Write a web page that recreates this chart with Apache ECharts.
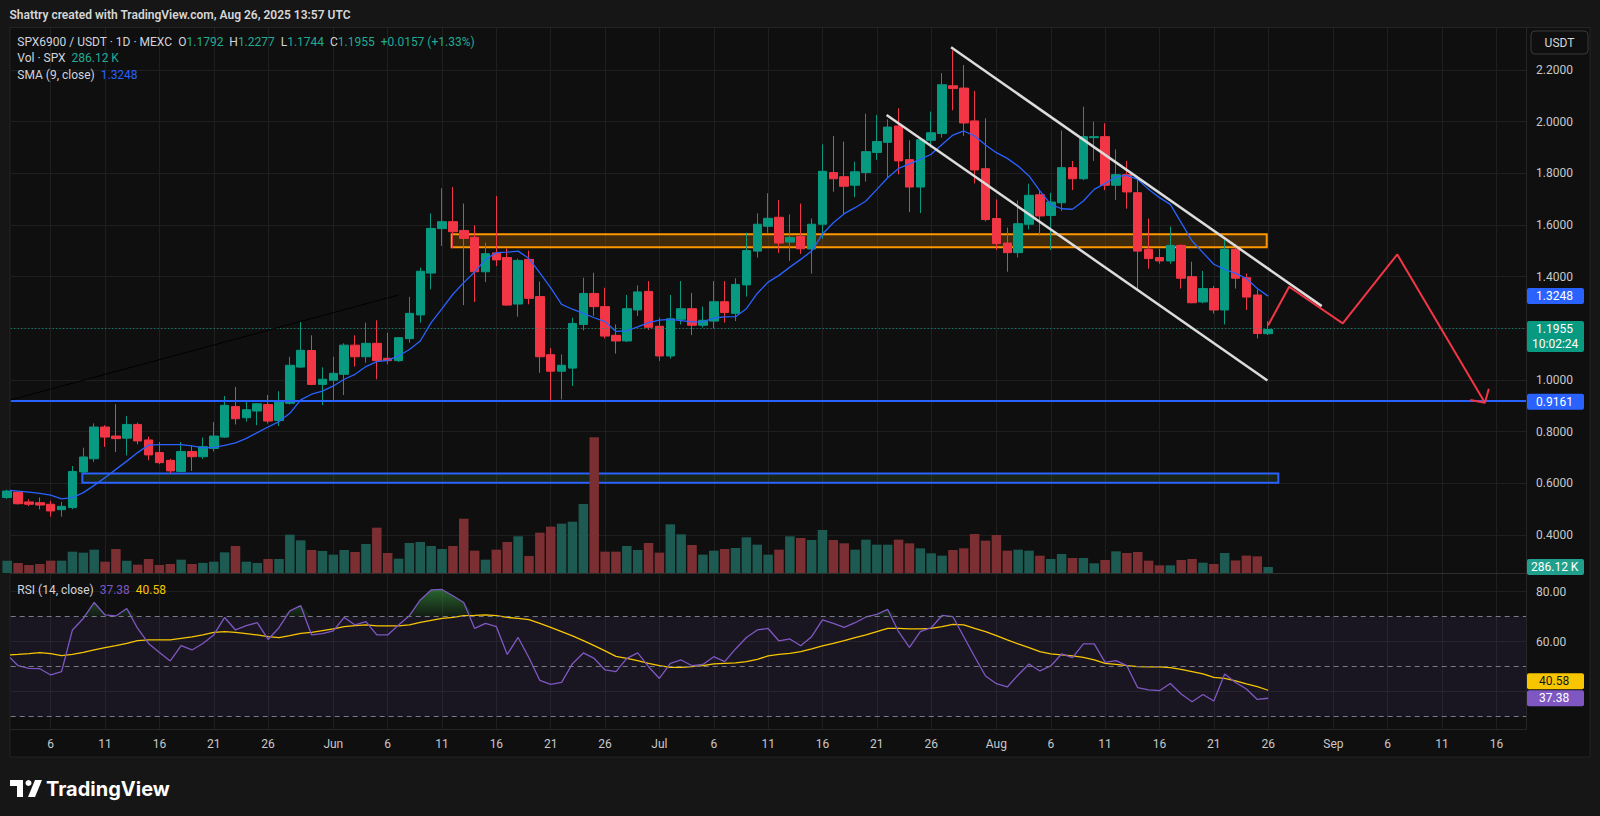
<!DOCTYPE html>
<html>
<head>
<meta charset="utf-8">
<script src="https://cdn.jsdelivr.net/npm/echarts@6.0.0/dist/echarts.min.js"></script>
<style>
html,body{margin:0;padding:0;background:#161616;}
#c{width:1600px;height:816px;}
</style>
</head>
<body>
<div id="c"></div>
<script>
// ---------------- DATA ----------------
// daily candles, 2025-05-02 ... 2025-08-26
const open = [
 0.545,0.566,0.528,0.525,0.519,0.498,0.506,0.644,0.695,0.818,0.783,0.775,0.828,0.768,0.719,0.689,0.646,0.723,0.703,0.735,0.779,0.897,0.854,0.880,0.905,0.843,0.910,1.050,1.114,0.983,
 0.999,1.022,1.135,1.090,1.142,1.084,1.075,1.160,1.252,1.414,1.586,1.613,1.579,1.552,1.419,1.492,1.474,1.294,1.467,1.323,1.098,1.034,1.046,1.215,1.335,1.284,1.173,1.151,1.271,1.343,
 1.208,1.093,1.235,1.276,1.212,1.228,1.303,1.258,1.368,1.499,1.595,1.630,1.534,1.556,1.507,1.603,1.803,1.787,1.754,1.803,1.881,1.920,1.983,1.853,1.747,1.928,1.954,2.139,2.130,2.003,1.818,
 1.625,1.530,1.493,1.603,1.717,1.637,1.686,1.822,1.779,1.938,1.942,1.754,1.795,1.725,1.506,1.474,1.461,1.521,1.400,1.302,1.354,1.271,1.506,1.396,1.329,1.1792
];
const high = [
 0.575,0.570,0.538,0.545,0.532,0.528,0.667,0.738,0.832,0.825,0.906,0.861,0.835,0.781,0.760,0.695,0.760,0.747,0.777,0.837,0.938,0.973,0.916,0.910,0.942,0.957,1.090,1.228,1.173,1.049,
 1.090,1.142,1.173,1.222,1.231,1.183,1.166,1.322,1.435,1.645,1.742,1.747,1.683,1.599,1.532,1.712,1.510,1.470,1.501,1.381,1.124,1.099,1.241,1.396,1.415,1.357,1.215,1.329,1.366,1.383,
 1.241,1.329,1.383,1.337,1.284,1.383,1.383,1.394,1.570,1.645,1.723,1.697,1.641,1.683,1.625,1.912,1.945,1.923,1.845,2.031,2.026,2.009,2.052,1.928,1.938,2.039,2.188,2.276,2.219,2.119,2.013,
 1.699,1.590,1.695,1.760,1.732,1.725,1.966,1.848,2.058,2.000,1.994,1.893,1.848,1.777,1.625,1.508,1.594,1.525,1.458,1.422,1.364,1.542,1.525,1.412,1.351,1.2277
];
const low = [
 0.540,0.518,0.512,0.499,0.471,0.471,0.500,0.640,0.683,0.741,0.721,0.708,0.751,0.689,0.674,0.639,0.645,0.648,0.695,0.723,0.776,0.828,0.839,0.825,0.832,0.822,0.905,1.046,0.980,0.903,
 0.919,0.942,1.052,1.067,1.003,1.061,1.070,1.144,1.222,1.351,1.519,1.510,1.290,1.302,1.379,1.441,1.288,1.245,1.293,1.028,0.919,0.925,0.977,1.192,1.248,1.161,1.102,1.147,1.248,1.194,
 1.074,1.083,1.215,1.174,1.203,1.199,1.222,1.228,1.323,1.474,1.570,1.492,1.461,1.488,1.412,1.547,1.729,1.639,1.708,1.768,1.852,1.783,1.796,1.650,1.646,1.899,1.938,2.044,1.945,1.761,1.614,
 1.503,1.419,1.474,1.583,1.559,1.503,1.654,1.735,1.774,1.848,1.735,1.697,1.663,1.348,1.431,1.450,1.450,1.354,1.297,1.297,1.257,1.215,1.354,1.271,1.161,1.1744
];
const close = [
 0.570,0.521,0.519,0.516,0.493,0.511,0.646,0.702,0.818,0.779,0.773,0.828,0.764,0.710,0.680,0.648,0.723,0.703,0.742,0.783,0.902,0.850,0.885,0.908,0.841,0.916,1.057,1.115,0.983,1.003,
 1.026,1.135,1.090,1.142,1.075,1.075,1.164,1.258,1.421,1.587,1.613,1.574,1.548,1.419,1.489,1.465,1.290,1.463,1.316,1.090,1.034,1.057,1.219,1.335,1.284,1.170,1.151,1.276,1.341,1.204,
 1.093,1.237,1.276,1.212,1.231,1.303,1.261,1.370,1.501,1.603,1.626,1.530,1.552,1.508,1.603,1.808,1.779,1.750,1.806,1.884,1.923,1.979,1.848,1.747,1.930,1.957,2.143,2.128,1.995,1.813,1.621,
 1.528,1.493,1.605,1.715,1.635,1.689,1.822,1.779,1.942,1.942,1.754,1.795,1.728,1.499,1.470,1.461,1.521,1.394,1.299,1.354,1.271,1.506,1.394,1.321,1.1798,1.1955
];
// volume, thousands of SPX
const volumeK = [
 588,477,382,429,588,588,1018,970,1113,541,1145,588,398,668,382,429,636,429,485,541,986,1288,541,477,668,668,1829,1558,1097,1049,
 875,1097,1002,1383,2162,954,684,1431,1479,1288,1145,1288,2592,1065,636,1113,1479,1749,811,1924,2210,2353,2449,3291,6471,1018,1018,1288,1097,1431,
 970,2321,1844,1336,875,1065,1145,1193,1701,1352,875,1113,1749,1670,1574,2051,1574,1415,1113,1590,1352,1352,1590,1415,1177,938,827,1097,1177,1860,1542,
 1813,1065,1113,1065,827,668,906,716,716,461,620,1034,954,1002,588,366,366,620,668,493,429,954,600,830,795,286.12
];
const sma9 = [
 0.574,0.570,0.566,0.561,0.554,0.540,0.545,0.564,0.592,0.622,0.654,0.686,0.719,0.748,0.750,0.750,0.750,0.745,0.737,0.739,0.747,0.757,0.774,0.796,0.818,0.839,0.871,0.923,0.945,0.957,
 0.977,1.003,1.022,1.052,1.071,1.076,1.093,1.118,1.151,1.222,1.276,1.332,1.377,1.418,1.467,1.493,1.495,1.499,1.470,1.415,1.357,1.293,1.274,1.258,1.241,1.226,1.188,1.190,1.206,1.222,
 1.232,1.235,1.230,1.225,1.225,1.240,1.244,1.245,1.276,1.335,1.379,1.405,1.437,1.467,1.499,1.565,1.609,1.644,1.667,1.693,1.738,1.783,1.819,1.837,1.854,1.874,1.912,1.948,1.964,1.945,1.910,
 1.880,1.858,1.828,1.790,1.732,1.680,1.663,1.661,1.693,1.738,1.761,1.787,1.792,1.777,1.738,1.706,1.680,1.609,1.538,1.493,1.448,1.428,1.413,1.393,1.354,1.3248
];
const rsi14 = [
 54.7,50.4,49.3,49.2,46.7,48.0,64.7,69.3,75.7,70.7,70.3,73.3,65.3,59.3,55.7,52.3,58.4,56.7,59.3,62.7,69.7,64.7,66.4,67.6,60.9,65.6,72.3,74.4,62.7,63.2,
 64.3,69.7,66.7,68.0,62.7,62.7,66.7,70.4,76.7,80.7,80.9,78.4,75.7,65.3,67.3,66.0,54.9,61.7,53.6,44.5,42.9,43.7,51.2,55.5,53.3,48.7,48.0,53.3,55.5,50.0,
 45.3,51.3,52.7,50.4,50.9,54.0,52.0,57.1,61.7,64.7,65.3,60.3,61.1,58.4,62.0,68.7,67.3,65.7,67.6,69.9,70.9,72.9,64.0,57.7,64.0,65.6,70.5,70.0,62.0,54.0,46.3,
 43.2,41.9,46.7,51.1,48.3,50.3,55.1,53.6,59.1,59.1,51.7,52.4,50.4,41.6,40.7,40.4,43.3,39.1,36.0,38.9,36.3,47.1,43.7,41.1,36.9,37.38
];
const rsiMa = [
 54.7,54.9,55.2,55.6,55.2,54.4,54.9,55.7,56.7,57.6,58.4,59.3,60.4,60.7,60.7,60.7,61.3,61.9,62.7,63.7,64.0,63.7,63.2,62.7,62.0,61.6,62.4,63.3,63.7,64.4,
 65.1,66.0,66.4,66.7,66.3,66.3,66.3,66.7,67.7,68.5,69.3,69.7,70.4,70.5,70.7,70.4,69.7,69.3,68.8,67.3,65.7,64.0,62.3,60.4,58.4,56.3,54.1,53.3,52.4,51.3,
 50.4,49.7,49.7,50.0,50.4,51.1,51.3,51.5,52.0,52.9,54.3,54.9,55.3,56.0,57.1,58.3,59.3,60.4,61.6,62.7,64.0,65.3,65.3,65.1,65.1,65.3,66.0,66.9,66.7,65.3,64.0,
 62.4,60.7,59.1,57.6,56.0,55.1,54.7,54.3,53.7,52.7,51.3,50.9,50.4,50.0,49.9,49.9,49.6,48.9,48.0,47.1,45.7,45.3,44.3,43.1,42.0,40.58
];
// axis ticks
const timeTicks = ['2025-05-06','2025-05-11','2025-05-16','2025-05-21','2025-05-26','2025-06-01','2025-06-06','2025-06-11','2025-06-16','2025-06-21','2025-06-26',
 '2025-07-01','2025-07-06','2025-07-11','2025-07-16','2025-07-21','2025-07-26','2025-08-01','2025-08-06','2025-08-11','2025-08-16','2025-08-21','2025-08-26',
 '2025-09-01','2025-09-06','2025-09-11','2025-09-16'];
const priceGridValues = [0.4,0.6,0.8,1.0,1.2,1.4,1.6,1.8,2.0,2.2];
const priceLabelValues = [0.4,0.6,0.8,1.0,1.4,1.6,1.8,2.0,2.2];
const rsiGridValues = [40,60,80];
const rsiLabelValues = [60,80];
const rsiLevels = [70,50,30];
// drawings (time, price)
const supportLevel = 0.9161;
const orangeZone = [['2025-06-11T21:20',1.564],['2025-08-25T20:50',1.514]];
const blueZone = [['2025-05-08T21:50',0.638],['2025-08-26T22:30',0.602]];
const blackTrend = [['2025-05-02T07:41',0.923],['2025-06-07T00:00',1.329]];
const channelUpper = [['2025-07-27T19:55',2.288],['2025-08-30T22:19',1.286]];
const channelLower = [['2025-07-21T21:36',2.026],['2025-08-25T22:19',0.998]];
const projection = [['2025-08-26T00:00',1.212],['2025-08-27T22:19',1.361],['2025-09-01T20:38',1.219],['2025-09-06T21:07',1.486],['2025-09-14T22:34',0.912]];
const arrowHead = [['2025-09-13T14:24',0.9225],['2025-09-14T22:34',0.912],['2025-09-15T07:12',0.9665]];

// ---------------- BUILD ----------------
const DAY = 86400000;
const ts = s => Date.parse(s.length === 10 ? s + 'T00:00:00Z' : s + ':00Z');
const START = Date.UTC(2025, 4, 2);
const dates = open.map((_, i) => START + i * DAY);
const X_MIN = ts('2025-05-02T07:41');
const X_MAX = ts('2025-09-18T17:17');
const P_MIN = 0.2529, P_MAX = 2.3626;
const R_MIN = 24.88, R_MAX = 87.28;
const VOL_MAX = 25996;
const FONT = 'Roboto, "Noto Sans", sans-serif';
const GRID = '#1f1f1f';
const UP = '#089981', DOWN = '#F23645';
const MONTHS = ['Jan','Feb','Mar','Apr','May','Jun','Jul','Aug','Sep','Oct','Nov','Dec'];
const tickTs = timeTicks.map(ts);
function fmtTime(v) {
  const d = new Date(v);
  return d.getUTCDate() === 1 ? MONTHS[d.getUTCMonth()] : String(d.getUTCDate());
}
const pts = arr => arr.map(p => [ts(p[0]), p[1]]);
const last = close.length - 1;

function drawLine(name, arr, color, width) {
  return { name, type: 'line', xAxisIndex: 0, yAxisIndex: 0, data: pts(arr), symbol: 'none',
    silent: true, z: 6, lineStyle: { color, width }, animation: false };
}

const option = {
  animation: false,
  backgroundColor: 'transparent',
  textStyle: { fontFamily: FONT },
  grid: [
    { left: 10.7, right: 74, top: 28, height: 545 },
    { left: 10.7, right: 74, top: 573.5, height: 156 }
  ],
  xAxis: [
    { type: 'value', gridIndex: 0, min: X_MIN, max: X_MAX, scale: true,
      axisLine: { show: true, onZero: false, lineStyle: { color: '#2e2e2e' } },
      axisTick: { show: false, customValues: tickTs },
      axisLabel: { show: false, customValues: tickTs },
      splitLine: { show: true, lineStyle: { color: GRID } } },
    { type: 'value', gridIndex: 1, min: X_MIN, max: X_MAX, scale: true,
      axisLine: { show: true, onZero: false, lineStyle: { color: '#262626' } },
      axisTick: { show: false, customValues: tickTs },
      axisLabel: { show: true, customValues: tickTs, formatter: fmtTime, color: '#c8c8c8', fontSize: 12, margin: 8, fontFamily: FONT },
      splitLine: { show: true, lineStyle: { color: GRID } } }
  ],
  yAxis: [
    { type: 'value', gridIndex: 0, position: 'right', min: P_MIN, max: P_MAX, scale: true,
      axisLine: { show: true, onZero: false, lineStyle: { color: '#262626' } },
      axisTick: { show: false, customValues: priceGridValues },
      axisLabel: { customValues: priceLabelValues, formatter: v => v.toFixed(4), color: '#c8c8c8', fontSize: 12, margin: 10, fontFamily: FONT },
      splitLine: { show: true, lineStyle: { color: GRID } } },
    { type: 'value', gridIndex: 0, min: 0, max: VOL_MAX, show: false, splitLine: { show: false } },
    { type: 'value', gridIndex: 1, position: 'right', min: R_MIN, max: R_MAX, scale: true,
      axisLine: { show: true, onZero: false, lineStyle: { color: '#262626' } },
      axisTick: { show: false, customValues: rsiGridValues },
      axisLabel: { customValues: rsiLabelValues, formatter: v => v.toFixed(2), color: '#c8c8c8', fontSize: 12, margin: 10, fontFamily: FONT },
      splitLine: { show: true, lineStyle: { color: GRID } } }
  ],
  series: [
    { name: 'Vol', type: 'bar', xAxisIndex: 0, yAxisIndex: 1, barWidth: 9.5, z: 1, silent: true,
      data: volumeK.map((v, i) => [dates[i], v]),
      itemStyle: { color: p => close[p.dataIndex] >= open[p.dataIndex] ? '#1d5b52' : '#7b2f32' } },
    { name: 'SPX6900', type: 'candlestick', xAxisIndex: 0, yAxisIndex: 0, barWidth: 9, z: 3, silent: true,
      encode: { x: 0, y: [1, 2, 3, 4] },
      data: dates.map((t, i) => [t, open[i], close[i], low[i], high[i]]),
      itemStyle: { color: UP, color0: DOWN, borderColor: UP, borderColor0: DOWN, borderWidth: 1 },
      markLine: { silent: true, symbol: 'none', animation: false, label: { show: false },
        data: [
          { yAxis: close[last], lineStyle: { color: UP, type: [1, 2.5], width: 1 } },
          { yAxis: supportLevel, lineStyle: { color: '#2962FF', type: 'solid', width: 2 } }
        ] },
      markArea: { silent: true, animation: false,
        data: [
          [ { coord: [ts(orangeZone[0][0]), orangeZone[0][1]], itemStyle: { color: 'rgba(255,152,0,0.2)', borderColor: '#FF9800', borderWidth: 2 } },
            { coord: [ts(orangeZone[1][0]), orangeZone[1][1]] } ],
          [ { coord: [ts(blueZone[0][0]), blueZone[0][1]], itemStyle: { color: 'rgba(76,175,80,0.13)', borderColor: '#2962FF', borderWidth: 2 } },
            { coord: [ts(blueZone[1][0]), blueZone[1][1]] } ]
        ] } },
    { name: 'SMA', type: 'line', xAxisIndex: 0, yAxisIndex: 0, data: sma9.map((v, i) => [dates[i], v]),
      symbol: 'none', silent: true, z: 4, lineStyle: { color: '#2962FF', width: 1.3 } },
    drawLine('trend', blackTrend, '#000000', 1),
    drawLine('chanU', channelUpper, '#dcdcdc', 2.5),
    drawLine('chanL', channelLower, '#dcdcdc', 2.5),
    drawLine('proj', projection, '#F23645', 2),
    drawLine('head', arrowHead, '#F23645', 2),
    // RSI pane: overbought fill (RSI above 70)
    { name: 'overbought', type: 'line', xAxisIndex: 1, yAxisIndex: 2, silent: true, symbol: 'none',
      data: rsi14.map((v, i) => [dates[i], Math.max(v, rsiLevels[0])]), lineStyle: { opacity: 0, width: 0 }, z: 2,
      areaStyle: { origin: rsiLevels[0], opacity: 1, color: { type: 'linear', x: 0, y: 0, x2: 0, y2: 1,
        colorStops: [ { offset: 0, color: 'rgba(60,170,70,0.55)' }, { offset: 1, color: 'rgba(60,170,70,0.08)' } ] } } },
    { name: 'RSI', type: 'line', xAxisIndex: 1, yAxisIndex: 2, data: rsi14.map((v, i) => [dates[i], v]),
      symbol: 'none', silent: true, z: 4, lineStyle: { color: '#7E57C2', width: 1.3 },
      markArea: { silent: true, itemStyle: { color: 'rgba(126,87,194,0.1)' },
        data: [ [ { yAxis: rsiLevels[0] }, { yAxis: rsiLevels[2] } ] ] },
      markLine: { silent: true, symbol: 'none', label: { show: false },
        lineStyle: { color: '#787b86', type: [5, 4], width: 1 },
        data: rsiLevels.map(v => ({ yAxis: v })) } },
    { name: 'RSI MA', type: 'line', xAxisIndex: 1, yAxisIndex: 2, data: rsiMa.map((v, i) => [dates[i], v]),
      symbol: 'none', silent: true, z: 3, lineStyle: { color: '#F7C600', width: 1.3 } }
  ]
};

const chart = echarts.init(document.getElementById('c'), null, { renderer: 'svg', width: 1600, height: 816 });
chart.setOption(option);

// ---------- overlay texts & axis value boxes ----------
const LF = '12px ' + FONT;
const T = (id, x, y, text, rich) => ({ type: 'text', id, x, y, z: 100, silent: true,
  style: { text, rich, verticalAlign: 'middle', align: 'left', font: LF, fill: '#d1d4dc' } });
const L = '#d1d4dc', G = '#22ab94';
const richStd = {
  l: { fill: L, font: LF },
  g: { fill: G, font: LF },
  b: { fill: '#2962FF', font: LF },
  p: { fill: '#7E57C2', font: LF },
  y: { fill: '#F7C600', font: LF }
};
const py = v => chart.convertToPixel({ yAxisIndex: 0 }, v);
const pv = v => chart.convertToPixel({ yAxisIndex: 1 }, v);
const pr = v => chart.convertToPixel({ yAxisIndex: 2 }, v);
const BX = 1527, BW = 57;
function box(id, yc, text, bg, fg, tx) {
  const h = 16;
  return [
    { type: 'rect', id: id + 'r', z: 101, silent: true, shape: { x: BX, y: yc - h / 2, width: BW, height: h, r: 2 }, style: { fill: bg } },
    { type: 'text', id: id + 't', z: 102, silent: true, x: BX + (tx == null ? 9 : tx), y: yc, style: { text, fill: fg, font: LF, verticalAlign: 'middle', align: 'left' } }
  ];
}
const yClose = py(close[last]);
const graphics = [
  { type: 'rect', id: 'panel', z: -100, silent: true, shape: { x: 10, y: 27.5, width: 1580, height: 729.5 }, style: { fill: '#0f0f0f', stroke: '#242424', lineWidth: 1 } },
  { type: 'text', id: 'credit', x: 9.5, y: 15, z: 100, silent: true, style: { text: 'Shattry created with TradingView.com, Aug 26, 2025 13:57 UTC', font: '600 12px ' + FONT, fill: '#d6d6d6', verticalAlign: 'middle' } },
  T('leg1', 17.3, 41.7, '{l|SPX6900 / USDT · 1D · MEXC}  {l|O}{g|1.1792}  {l|H}{g|1.2277}  {l|L}{g|1.1744}  {l|C}{g|1.1955}  {g|+0.0157 (+1.33%)}', richStd),
  T('leg2', 17.3, 58.3, '{l|Vol · SPX}  {g|286.12 K}', richStd),
  T('leg3', 17.3, 74.5, '{l|SMA (9, close)}  {b|1.3248}', richStd),
  T('leg4', 17.3, 589.5, '{l|RSI (14, close)}  {p|37.38}  {y|40.58}', richStd),
  { type: 'rect', id: 'usdt', z: 100, silent: true, shape: { x: 1531, y: 31, width: 57, height: 23, r: 4 }, style: { fill: '#0f0f0f', stroke: '#3a3a3a', lineWidth: 1 } },
  { type: 'text', id: 'usdtT', z: 101, silent: true, x: 1559.5, y: 42.5, style: { text: 'USDT', fill: '#d9d9d9', font: LF, align: 'center', verticalAlign: 'middle' } },
  ...box('sma', py(sma9[last]), sma9[last].toFixed(4), '#2962FF', '#ffffff'),
  { type: 'rect', id: 'clr', z: 101, silent: true, shape: { x: BX, y: yClose - 8.5, width: BW, height: 31, r: 2 }, style: { fill: UP } },
  { type: 'text', id: 'clt1', z: 102, silent: true, x: BX + 9, y: yClose, style: { text: close[last].toFixed(4), fill: '#ffffff', font: LF, verticalAlign: 'middle' } },
  { type: 'text', id: 'clt2', z: 102, silent: true, x: BX + 5, y: yClose + 14.5, style: { text: '10:02:24', fill: '#ffffff', font: LF, verticalAlign: 'middle' } },
  ...box('sup', py(supportLevel), supportLevel.toFixed(4), '#2962FF', '#ffffff'),
  ...box('vol', pv(volumeK[last]), '286.12 K', '#1f9f8c', '#ffffff', 4),
  ...box('rma', pr(rsiMa[last]) - 9, rsiMa[last].toFixed(2), '#F7C600', '#131722', 12),
  ...box('rsi', pr(rsi14[last]), rsi14[last].toFixed(2), '#7E57C2', '#ffffff', 12),
  // TradingView logo
  { type: 'polygon', id: 'lg1', z: 100, silent: true, shape: { points: [[10,780],[23,780],[23,797],[17,797],[17,786],[10,786]] }, style: { fill: '#ffffff' } },
  { type: 'circle', id: 'lg2', z: 100, silent: true, shape: { cx: 28.5, cy: 783, r: 3 }, style: { fill: '#ffffff' } },
  { type: 'polygon', id: 'lg3', z: 100, silent: true, shape: { points: [[35,780],[42,780],[35,797],[28,797]] }, style: { fill: '#ffffff' } },
  { type: 'text', id: 'lgT', z: 100, silent: true, x: 46, y: 789, style: { text: 'TradingView', fill: '#ffffff', font: 'bold 20px Inter, ' + FONT, verticalAlign: 'middle' } }
];
chart.setOption({ graphic: graphics });
</script>
</body>
</html>
